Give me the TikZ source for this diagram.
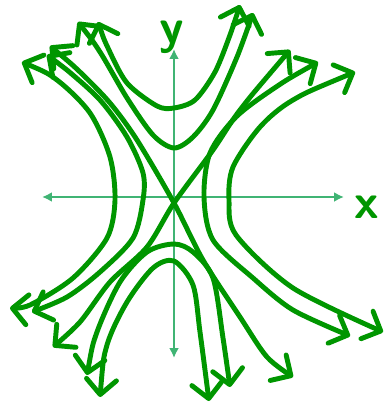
\documentclass[tikz,border=0pt]{standalone}
\usepackage{xcolor}
\usepackage{tikz}
\usetikzlibrary{arrows.meta}
\definecolor{cTraj}{RGB}{0,150,0}
\definecolor{cAxis}{RGB}{64,180,116}

\begin{document}
\begin{tikzpicture}[x=0.02cm,y=-0.02cm,
  traj/.style={draw=cTraj,line width=2.8pt,line cap=round,line join=round,
    {Straight Barb[length=3mm,width=6mm,round]}-{Straight Barb[length=3mm,width=6mm,round]}},
  axis/.style={draw=cAxis,line width=1.6pt,{Latex[length=2mm,width=2mm]}-{Latex[length=2mm,width=2mm]}},
  lbl/.style={text=cTraj,font=\sffamily\bfseries\fontsize{28}{28}\selectfont,inner sep=0pt,anchor=north}]
\useasboundingbox (0,0) rectangle (386,409);
\draw[axis] (42,197) -- (344,197);
\draw[axis] (174,49) -- (174,358);
\node[lbl] (ylabel) at (172,21) {y};
\node[lbl] (xlabel) at (367,196) {x};
\draw[traj] plot[smooth] coordinates {(98,22) (108,48) (127,83) (157,106) (174,108) (195,100) (215,72) (230,35) (240,5)};
\draw[traj] plot[smooth] coordinates {(78,22) (100,52) (127,98) (153,135) (174,148) (193,137) (213,110) (237,57) (253,13)};
\draw[traj] plot[smooth] coordinates {(87,375) (97,332) (120,282) (147,252) (174,244) (193,252) (213,278) (223,338) (230,387)};
\draw[traj] plot[smooth] coordinates {(100,397) (107,345) (127,302) (153,268) (174,261) (193,285) (200,332) (209,401)};
\draw[traj] plot[smooth] coordinates {(22,62) (57,80) (90,113) (110,157) (115,200) (107,238) (73,278) (30,305) (10,308)};
\draw[traj] plot[smooth] coordinates {(47,55) (67,70) (100,100) (127,137) (143,173) (143,200) (133,238) (100,272) (67,297) (32,312)};
\draw[traj] plot[smooth] coordinates {(318,62) (276,87) (236,117) (210,153) (204,197) (213,240) (253,278) (293,310) (350,336)};
\draw[traj] plot[smooth] coordinates {(355,72) (293,100) (260,127) (233,167) (229,200) (236,235) (293,288) (383,332)};
\draw[traj] plot[smooth] coordinates {(50,46) (80,72) (110,103) (137,140) (174,203) (203,260) (240,317) (267,357) (293,377)};
\draw[traj] plot[smooth] coordinates {(290,50) (240,110) (213,150) (174,203) (147,247) (110,282) (80,322) (53,347)};
\end{tikzpicture}
\end{document}
